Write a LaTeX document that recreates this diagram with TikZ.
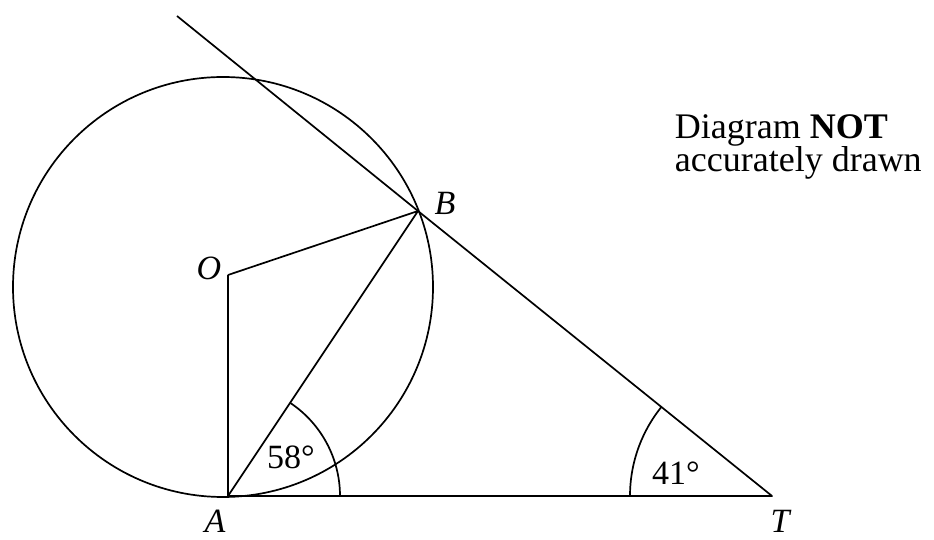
\documentclass[tikz,border=0pt]{standalone}
\usepackage{fontspec}
\setmainfont{Liberation Serif}
\tikzset{
  pt/.style={inner sep=0pt, font=\fontsize{34}{33}\selectfont\itshape},
  ang/.style={inner sep=0pt, font=\fontsize{34}{33}\selectfont},
  note/.style={inner sep=0pt, anchor=base west, font=\fontsize{36}{33}\selectfont}
}
\begin{document}
\begin{tikzpicture}[x=1pt, y=1pt, line width=1.7pt, line join=round]
        \useasboundingbox (0,0) rectangle (934,540);
        % points
        \coordinate (A) at (228,44);
        \coordinate (T) at (772,44);
        \coordinate (O) at (228,265);
        \coordinate (B) at (418,329);
        \coordinate (E) at (177,524);
        \coordinate (C) at (223,253);
        % circle and lines
        \draw (C) circle[radius=210pt];
        \draw (O) -- (A) -- (T) -- (B) -- (E);
        \draw (O) -- (B) -- (A);
        % angle arcs
        \draw ([shift={(0:112pt)}]A) arc[start angle=0, end angle=56.3, radius=112pt];
        \draw ([shift={(180:142pt)}]T) arc[start angle=180, end angle=141.1, radius=142pt];
        % labels
        \draw (215,19)node[pt, name=labA]{A};
        \draw (780,19)node[pt, name=labT]{T};
        \draw (209,272)node[pt, name=labO]{O};
        \draw (445,337)node[pt, name=labB]{B};
        \draw (291,83)node[ang, name=angA]{58°};
        \draw (676,67)node[ang, name=angT]{41°};
        \draw (674,401)node[note, name=note1]{Diagram \textbf{NOT}};
        \draw (674,368)node[note, name=note2]{accurately drawn};
    \end{tikzpicture}
\end{document}
